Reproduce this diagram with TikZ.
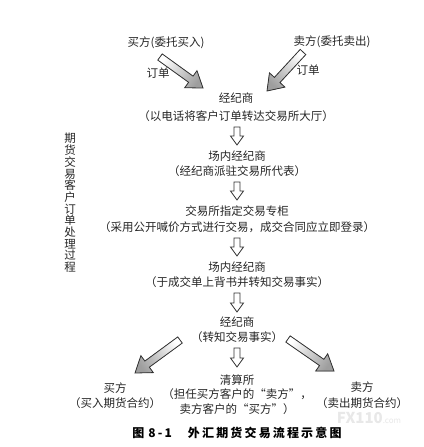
\documentclass[tikz,border=0pt]{standalone}
\usepackage{fontspec}
\setmainfont{Noto Sans CJK SC}
\newfontfamily\capfont[LetterSpace=18]{Noto Sans CJK SC}
\usetikzlibrary{calc}
\newcommand\blkarrow[6]{%
  \coordinate (tmpc) at ($(#3)!#6!(#2)$);
  \filldraw[#1] ($(#2)!#4!90:(#3)$) -- ($(tmpc)!#4!90:(#3)$) -- ($(tmpc)!#5!90:(#3)$) -- (#3)
     -- ($(tmpc)!#5!-90:(#3)$) -- ($(tmpc)!#4!-90:(#3)$) -- ($(#2)!#4!-90:(#3)$) -- cycle;
}
\begin{document}
\begin{tikzpicture}[x=1pt,y=-1pt,
  every node/.style={inner sep=0pt, text=black!85},
  lbl/.style={font=\fontsize{11.5}{11.5}\selectfont},
  box/.style={font=\fontsize{11.5}{15.5}\selectfont, align=center},
  diagarrow/.style={draw=black!80, top color=black!38, bottom color=white, line width=0.8pt, line join=miter},
  downarrow/.style={draw=black!80, fill=white, line width=0.8pt, line join=miter}]
\fill[white] (0,0) rectangle (423,447);
\useasboundingbox (0,0) rectangle (423,447);

% top labels
\node[lbl] (buyT) at (166,43) {买方(委托买入)};
\node[lbl] (sellT) at (332,42) {卖方(委托卖出)};
\node[lbl] (ordL) at (158,73) {订单};
\node[lbl] (ordR) at (308,70) {订单};

% main column
\node[box, font=\fontsize{11.5}{18}\selectfont] (b1) at (236,107) {经纪商\\（以电话将客户订单转达交易所大厅）};
\node[box] (b2) at (237,163.5) {场内经纪商\\（经纪商派驻交易所代表）};
\node[box] (b3) at (237,219) {交易所指定交易专柜\\（采用公开喊价方式进行交易，成交合同应立即登录）};
\node[box] (b4) at (237,274.5) {场内经纪商\\（于成交单上背书并转知交易事实）};
\node[box, font=\fontsize{11.5}{15}\selectfont] (b5) at (237,329.5) {经纪商\\（转知交易事实）};

% bottom row
\node[box, font=\fontsize{11.5}{14.5}\selectfont] (clr) at (237,394.5) {清算所\\（担任买方客户的“卖方”，\\卖方客户的“买方”）};
\node[box] (buyB) at (115,395.5) {买方\\（买入期货合约）};
\node[box] (sellB) at (362,395) {卖方\\（卖出期货合约）};

% side vertical text
\node[font=\fontsize{11.5}{11.7}\selectfont, align=center] (side) at (70,203)
  {期\\货\\交\\易\\客\\户\\订\\单\\处\\理\\过\\程};

% caption and watermark
\node[font=\capfont\bfseries\fontsize{12}{12}\selectfont, text=black] (cap) at (237,433)
  {图\hspace{4pt}8-1\hspace{16pt}外汇期货交易流程示意图};
\node[text=black!9] (wm) at (369,418) {{\fontsize{15}{15}\selectfont\bfseries FX110}{\fontsize{8}{8}\selectfont.com}};

% arrow end points
\coordinate (aLs) at (160,57);  \coordinate (aLe) at (203,88);
\coordinate (aRs) at (303,52);  \coordinate (aRe) at (267,91);
\coordinate (v1s) at (237,127); \coordinate (v1e) at (237,145);
\coordinate (v2s) at (237,182); \coordinate (v2e) at (237,200);
\coordinate (v3s) at (237,238); \coordinate (v3e) at (237,256);
\coordinate (v4s) at (237,293); \coordinate (v4e) at (237,312);
\coordinate (v5s) at (237,348); \coordinate (v5e) at (237,367);
\coordinate (dLs) at (180,340); \coordinate (dLe) at (135,373);
\coordinate (dRs) at (288,339); \coordinate (dRe) at (334,371);

\blkarrow{diagarrow, shading angle=-125.8}{aLs}{aLe}{3.8pt}{10.5pt}{15pt}
\blkarrow{diagarrow, shading angle=137.3}{aRs}{aRe}{3.8pt}{10.5pt}{15pt}
\blkarrow{diagarrow, shading angle=126.3}{dLs}{dLe}{3.8pt}{10.5pt}{15pt}
\blkarrow{diagarrow, shading angle=-124.8}{dRs}{dRe}{3.8pt}{10.5pt}{15pt}
\blkarrow{downarrow}{v1s}{v1e}{3pt}{6.5pt}{9pt}
\blkarrow{downarrow}{v2s}{v2e}{3pt}{6.5pt}{9pt}
\blkarrow{downarrow}{v3s}{v3e}{3pt}{6.5pt}{9pt}
\blkarrow{downarrow}{v4s}{v4e}{3pt}{6.5pt}{9pt}
\blkarrow{downarrow}{v5s}{v5e}{3pt}{6.5pt}{9pt}
\end{tikzpicture}
\end{document}
